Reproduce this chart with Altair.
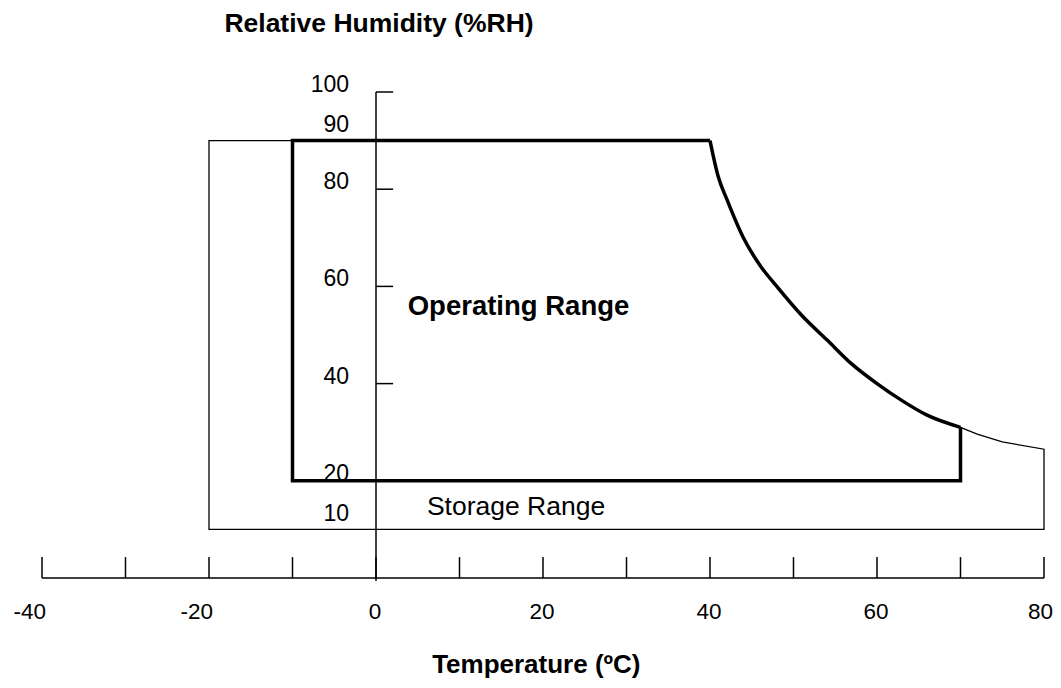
import altair as alt
import pandas as pd

# ---- data ----
x_ticks = [-40, -30, -20, -10, 0, 10, 20, 30, 40, 50, 60, 70, 80]
x_labels_pos = [0, 20, 40, 60]
x_labels_end = [80]
x_labels_neg = [-40, -20]
y_ticks = [100, 80, 60, 40]
y_labels = [100, 80, 60, 40, 20]
y_labels_raised = [90, 10]

# shared upper-right boundary curve (temperature, %RH)
curve_x = [40, 41, 42, 44, 46, 48, 51, 54, 57, 60, 63, 66, 70]
curve_y = [90, 82.5, 78, 70, 64.3, 60, 54, 49, 44, 40, 36.5, 33.5, 31]

# operating range: straight edges from the curve end round to the curve start
op_box_x = [70, 70, -10, -10, 40]
op_box_y = [31, 20, 20, 90, 90]

# storage range: tail beyond 70 degC and straight edges back to the curve start
st_box_x = [70, 72, 75, 80, 80, -20, -20, 40]
st_box_y = [31, 29.6, 28, 26.5, 10, 10, 90, 90]

FONT = "Liberation Sans"

xs = alt.Scale(domain=[-40, 80], nice=False, zero=False)
ys = alt.Scale(domain=[0, 100], nice=False, zero=False)


def X(f):
    return alt.X(f, type="quantitative", scale=xs, axis=None)


def Y(f):
    return alt.Y(f, type="quantitative", scale=ys, axis=None)


def path_df(xv, yv):
    return pd.DataFrame({"x": xv, "y": yv, "i": list(range(len(xv)))})


def path(xv, yv, width, interp="linear"):
    return alt.Chart(path_df(xv, yv)).mark_line(
        color="black", strokeWidth=width, strokeJoin="miter", interpolate=interp
    ).encode(x=X("x"), y=Y("y"), order=alt.Order("i", type="quantitative"))


storage_box = path(st_box_x, st_box_y, 1.3)
storage_curve = path(curve_x, curve_y, 1.3, "monotone")
operating_box = path(op_box_x, op_box_y, 3.5)
operating_curve = path(curve_x, curve_y, 3.5, "monotone")

# axis lines
xaxis_df = pd.DataFrame({"a": [x_ticks[0]], "b": [x_ticks[-1]], "y": [0]})
xaxis_line = alt.Chart(xaxis_df).mark_rule(color="black", strokeWidth=1.5).encode(
    x=X("a"), x2="b", y=Y("y"))
yaxis_df = pd.DataFrame({"a": [-0.6], "b": [y_ticks[0]], "x": [0]})
yaxis_line = alt.Chart(yaxis_df).mark_rule(color="black", strokeWidth=1.5).encode(
    y=Y("a"), y2="b", x=X("x"))

# tick marks
xt_df = pd.DataFrame({"v": x_ticks, "y0": 0.0, "y1": 4.3})
xt = alt.Chart(xt_df).mark_rule(color="black", strokeWidth=1.5).encode(
    x=X("v"), y=Y("y0"), y2="y1")
yt_df = pd.DataFrame({"v": y_ticks, "x0": 0.0, "x1": 2.05})
yt = alt.Chart(yt_df).mark_rule(color="black", strokeWidth=1.5).encode(
    y=Y("v"), x=X("x0"), x2="x1")


# tick labels
def lab_df(vals):
    d = pd.DataFrame({"v": vals})
    d["t"] = [str(v) for v in vals]
    d["z"] = 0.0
    return d


def xlab(vals, align, dx):
    return alt.Chart(lab_df(vals)).mark_text(
        font=FONT, fontSize=22.5, align=align, baseline="alphabetic", dy=41, dx=dx,
        color="black").encode(x=X("v"), y=Y("z"), text="t:N")


xl_pos = xlab(x_labels_pos, "center", -1)
xl_end = xlab(x_labels_end, "right", 9)
xl_neg = xlab(x_labels_neg, "right", 4)

yl = alt.Chart(lab_df(y_labels)).mark_text(
    font=FONT, fontSize=23, align="right", baseline="alphabetic", dx=-27, color="black").encode(
    y=Y("v"), x=X("z"), text="t:N")
yl2 = alt.Chart(lab_df(y_labels_raised)).mark_text(
    font=FONT, fontSize=23, align="right", baseline="alphabetic", dx=-27, dy=-8.5, color="black").encode(
    y=Y("v"), x=X("z"), text="t:N")


# annotations / titles
def ann(text, x, y, bold, align, size):
    d = pd.DataFrame({"x": [x], "y": [y], "t": [text]})
    return alt.Chart(d).mark_text(
        font=FONT, fontSize=size, fontWeight="bold" if bold else "normal",
        align=align, baseline="alphabetic", color="black").encode(
        x=X("x"), y=Y("y"), text="t:N")


title_y = ann("Relative Humidity (%RH)", 0.36, 112.3, True, "center", 26.5)
title_x = ann("Temperature (ºC)", 19.2, -19.5, True, "center", 26)
op_label = ann("Operating Range", 3.8, 54.1, True, "left", 27.5)
st_label = ann("Storage Range", 6.1, 13.0, False, "left", 26.5)

chart = alt.layer(
    storage_box, storage_curve, operating_box, operating_curve,
    xaxis_line, yaxis_line, xt, yt,
    xl_pos, xl_end, xl_neg, yl, yl2, title_y, title_x, op_label, st_label,
).properties(
    width=1002, height=486,
    autosize=alt.AutoSizeParams(type="none"),
    padding={"left": 34, "top": 84, "right": 9, "bottom": 102},
    background="white",
).configure_view(stroke=None)

chart.save("out.html", embed_options={"renderer": "svg", "actions": False})
